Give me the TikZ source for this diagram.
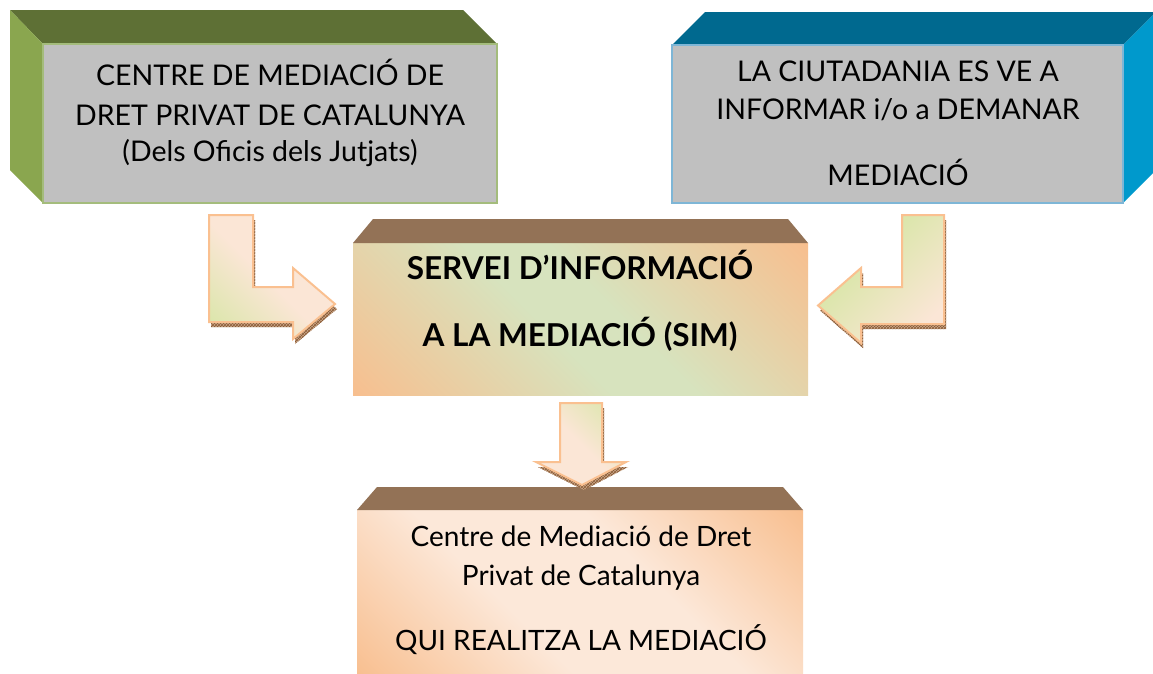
\documentclass[tikz,border=0pt]{standalone}
\usepackage{fontspec}
\setmainfont{Lato}
\usetikzlibrary{calc,patterns}
\definecolor{grnTop}{HTML}{5E7035}
\definecolor{grnSide}{HTML}{8AA64F}
\definecolor{grnBorder}{HTML}{A4BC7C}
\definecolor{bluTop}{HTML}{00698F}
\definecolor{bluSide}{HTML}{0099CC}
\definecolor{bluBorder}{HTML}{7EB6D6}
\definecolor{boxGray}{HTML}{C0C0C0}
\definecolor{brnTop}{HTML}{937256}
\definecolor{cOr}{HTML}{F8BE8E}
\definecolor{cGr}{HTML}{D7E3BE}
\definecolor{cPe}{HTML}{FCE8D9}
\definecolor{aGr}{HTML}{DCE6AC}
\definecolor{aPe}{HTML}{FBE6D6}
\definecolor{aLine}{HTML}{FAC090}
\definecolor{shFill}{HTML}{C9A88C}
\definecolor{shLine}{HTML}{8A5A34}
\pgfdeclarehorizontalshading{simshade}{100bp}{color(0bp)=(cOr); color(14bp)=(cOr); color(45bp)=(cGr); color(55bp)=(cGr); color(86bp)=(cOr); color(100bp)=(cOr)}
\pgfdeclarehorizontalshading{qshade}{100bp}{color(0bp)=(cOr); color(14bp)=(cOr); color(40bp)=(cPe); color(60bp)=(cPe); color(86bp)=(cOr); color(100bp)=(cOr)}
\pgfdeclarehorizontalshading{lshade}{100bp}{color(0bp)=(aGr); color(20bp)=(aGr); color(48bp)=(aPe); color(100bp)=(aPe)}
\pgfdeclarehorizontalshading{rshade}{100bp}{color(0bp)=(aPe); color(25bp)=(aPe); color(60bp)=(aGr); color(100bp)=(aGr)}
\pgfdeclarehorizontalshading{dshade}{100bp}{color(0bp)=(aPe); color(50bp)=(aPe); color(80bp)=(aGr); color(100bp)=(aGr)}
\pgfdeclarelayer{bg}
\pgfsetlayers{bg,main}
\newcommand{\arrowLeftL}[1]{\path[#1] (209,215) -- (253,215) -- (253,287) -- (293,287) -- (293,268) -- (335,304) -- (293,339) -- (293,322) -- (209,322) -- cycle;}
\newcommand{\arrowRightL}[1]{\path[#1] (944,215) -- (902,215) -- (902,287) -- (861,287) -- (861,268) -- (818,305.5) -- (861,343) -- (861,324) -- (944,324) -- cycle;}
\newcommand{\arrowDown}[1]{\path[#1] (560,403) -- (602,403) -- (602,462) -- (626,462) -- (582,485) -- (536,462) -- (560,462) -- cycle;}
\tikzset{
  face/.style={inner sep=0pt, outer sep=0pt, rectangle},
  blockarrow/.style={draw=aLine, line width=2pt, line join=miter},
  arrowshadow/.style={preaction={fill=shFill}, pattern=crosshatch, pattern color=shLine, shift={(2,5)}},
  bigtxt/.style={anchor=base, inner sep=0pt, font=\fontsize{28.5}{34}\selectfont},
  simtxt/.style={anchor=base, inner sep=0pt, font=\fontsize{31.5}{36}\selectfont\bfseries},
  qtxt/.style={anchor=base, inner sep=0pt, font=\fontsize{28}{32}\selectfont},
}
\begin{document}
\begin{tikzpicture}[x=1pt,y=-1pt]
\useasboundingbox (0,0) rectangle (1153,673);

% green box
\node[face, fill=boxGray, draw=grnBorder, line width=1.5pt, minimum width=454pt, minimum height=159pt] (g) at (270,123.5) {};
\begin{pgfonlayer}{bg}
\fill[white] (0,0) rectangle (1153,673);
\fill[grnTop] (g.north west) -- ++(-33,-34) -- ($(g.north east)+(-34,-34)$) -- (g.north east) -- cycle;
\fill[grnSide] (g.north west) -- ++(-33,-34) -- ($(g.south west)+(-33,-33)$) -- (g.south west) -- cycle;
\end{pgfonlayer}
\node[bigtxt] (g1) at (270,85) {CENTRE DE MEDIACIÓ DE};
\node[bigtxt] (g2) at (270,125) {DRET PRIVAT DE CATALUNYA};
\node[bigtxt] (g3) at (270,161) {(Dels Oficis dels Jutjats)};

% blue box
\node[face, fill=boxGray, draw=bluBorder, line width=1.5pt, minimum width=451pt, minimum height=158pt] (b) at (897.5,124) {};
\begin{pgfonlayer}{bg}
\fill[bluTop] (b.north west) -- ++(33,-33) -- ($(b.north east)+(33,-33)$) -- (b.north east) -- cycle;
\fill[bluSide] (b.north east) -- ++(33,-33) -- ($(b.south east)+(33,-33)$) -- (b.south east) -- cycle;
\end{pgfonlayer}
\node[bigtxt] (b1) at (898,81) {LA CIUTADANIA ES VE A};
\node[bigtxt] (b2) at (898,119) {INFORMAR i/o a DEMANAR};
\node[bigtxt] (b3) at (898,185) {MEDIACIÓ};

% SIM box
\node[face, shading=simshade, shading angle=45, minimum width=455pt, minimum height=152pt] (s) at (580.5,319) {};
\fill[brnTop] (s.north west) -- ++(20,-24) -- ($(s.north east)+(-20,-24)$) -- (s.north east) -- cycle;
\node[simtxt] (s1) at (580,279) {SERVEI D’INFORMACIÓ};
\node[simtxt] (s2) at (580,346) {A LA MEDIACIÓ (SIM)};

% bottom box
\node[face, shading=qshade, shading angle=45, minimum width=446pt, minimum height=166pt] (q) at (580,593) {};
\fill[brnTop] (q.north west) -- ++(20,-23) -- ($(q.north east)+(-20,-23)$) -- (q.north east) -- cycle;
\node[qtxt] (q1) at (581,546) {Centre de Mediació de Dret};
\node[qtxt] (q2) at (581,585) {Privat de Catalunya};
\node[qtxt] (q3) at (581,650) {QUI REALITZA LA MEDIACIÓ};

% block arrows
\arrowLeftL{arrowshadow}
\arrowLeftL{blockarrow, shading=lshade, shading angle=45}
\arrowRightL{arrowshadow}
\arrowRightL{blockarrow, shading=rshade, shading angle=135}
\arrowDown{arrowshadow}
\arrowDown{blockarrow, shading=dshade, shading angle=45}
\end{tikzpicture}
\end{document}
